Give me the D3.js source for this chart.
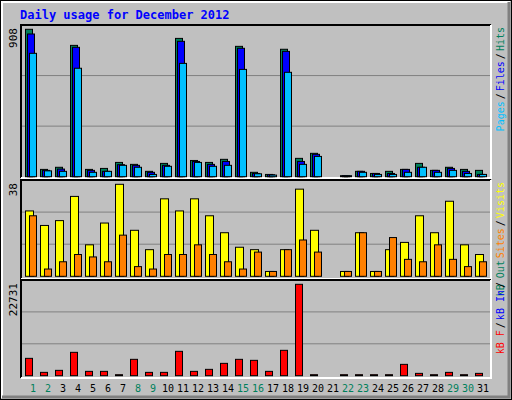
<!DOCTYPE html>
<html>
<head>
<script src="https://d3js.org/d3.v7.min.js"></script>
<style>body{margin:0;background:#fff}</style>
</head>
<body>
<div id="chart"></div>
<script>
const days = d3.range(1, 32);
const weekend = [1, 2, 8, 9, 15, 16, 22, 23, 29, 30];
const hits  = [908,45,58,809,45,51,88,76,33,82,852,100,88,107,803,27,14,785,113,144,0,3,33,20,33,45,82,39,58,45,39];
const files = [879,39,47,797,39,33,74,70,27,70,834,94,76,94,791,20,12,772,94,138,0,2,33,20,20,45,58,39,51,33,14];
const pages = [760,36,33,668,27,33,70,58,14,64,698,88,64,70,661,18,10,643,76,125,0,1,27,14,14,27,58,27,39,20,14];
const visits = [27,21,23,33,13,22,38,19,11,32,27,32,25,18,12,11,2,11,36,19,0,2,18,2,11,14,25,18,31,13,9];
const sites  = [25,3,6,9,8,6,17,4,3,9,9,13,9,6,3,10,2,11,15,10,0,2,18,2,16,7,6,13,7,4,6];
const kbytes = [4316,830,1330,5810,1080,1080,150,4070,830,830,6060,1080,1580,3070,4070,3820,1080,6310,22731,150,0,150,150,150,150,2820,580,150,830,150,580];

const W = 512, H = 400;
const font = "'DejaVu Sans Mono', monospace";
const svg = d3.select("#chart").append("svg").attr("width", W).attr("height", H)
  .style("font-family", font);

// frame
svg.append("rect").attr("width", W).attr("height", H).attr("fill", "#c0c0c0");
svg.append("rect").attr("x", 0.5).attr("y", 0.5).attr("width", W - 1).attr("height", H - 1)
  .attr("fill", "none").attr("stroke", "#000");
svg.append("path").attr("d", `M2,${H-2}V2H${W-2}`).attr("stroke", "#fff").attr("stroke-width", 2).attr("fill", "none");
svg.append("path").attr("d", `M2,${H-3}H${W-3}V2`).attr("stroke", "#808080").attr("stroke-width", 3).attr("fill", "none");

svg.append("text").attr("x", 20).attr("y", 19).attr("fill", "#0000ff")
  .attr("font-weight", "bold").attr("font-size", 12).text("Daily usage for December 2012");

const x = d3.scaleBand().domain(days).range([25, 490]).padding(0);

const panels = [
  {top: 25, bottom: 178, base: 176.7, topv: 29.3, max: 908,
   series: [[hits, "#00805c", 0, 7], [files, "#0000ff", 2, 7], [pages, "#00c0ff", 4, 7]],
   label: [["Pages", "#00c0ff"], ["/", "#000"], ["Files", "#0000ff"], ["/", "#000"], ["Hits", "#00805c"]]},
  {top: 180, bottom: 279, base: 276.3, topv: 184.3, max: 38,
   series: [[visits, "#ffff00", 0, 8], [sites, "#ff8000", 4, 7]],
   label: [["kB Out", "#00805c"], ["Sites", "#ff8000"], ["/", "#000"], ["Visits", "#ffff00"]]},
  {top: 280, bottom: 378, base: 375.7, topv: 284.3, max: 22731,
   series: [[kbytes, "#ff0000", 0, 7]],
   label: [["kB F", "#ff0000"], ["/", "#000"], ["kB In", "#0000ff"], ["/", "#000"]]}
];

panels.forEach(p => {
  const g = svg.append("g");
  g.append("rect").attr("x", 21).attr("y", p.top).attr("width", 470).attr("height", p.bottom - p.top)
    .attr("fill", "#c0c0c0");
  g.append("path").attr("d", `M21,${p.bottom}V${p.top}H491`).attr("stroke", "#000").attr("stroke-width", 2).attr("fill", "none");
  g.append("path").attr("d", `M21,${p.bottom}H491V${p.top}`).attr("stroke", "#fff").attr("stroke-width", 2).attr("fill", "none");
  const y = d3.scaleLinear().domain([0, p.max]).range([p.base, p.topv]);
  const h = p.base - p.top;
  [1, 2].forEach(k => g.append("line").attr("x1", 22).attr("x2", 490)
    .attr("y1", p.base - h * k / 3).attr("y2", p.base - h * k / 3).attr("stroke", "#808080").attr("stroke-width", 1));
  p.series.forEach(([vals, col, off, w]) => {
    g.selectAll(null).data(days.filter((d, i) => vals[i] > 0)).enter().append("rect")
      .attr("x", d => x(d) + off + 0.5)
      .attr("y", d => Math.min(y(vals[d - 1]), p.base - 1))
      .attr("width", w)
      .attr("height", d => Math.max(p.base - y(vals[d - 1]), 1))
      .attr("fill", col).attr("stroke", "#000").attr("stroke-width", 1);
  });
  g.append("text").attr("transform", `translate(17,${p.top + 3}) rotate(-90)`)
    .attr("text-anchor", "end").attr("font-size", 11).attr("fill", "#000").text(p.max);
  const t = g.append("text").attr("transform", `translate(504,${p.top + 2}) rotate(-90)`)
    .attr("text-anchor", "end").attr("font-size", 10);
  p.label.forEach(([s, c], i) => t.append("tspan").attr("fill", c).attr("dx", i ? 2 : 0).text(s));
});

svg.append("g").selectAll("text").data(days).enter().append("text")
  .attr("x", d => x(d) + 8).attr("y", 392).attr("text-anchor", "middle").attr("font-size", 10)
  .attr("fill", d => weekend.includes(d) ? "#00805c" : "#000").text(d => d);
</script>
</body>
</html>
